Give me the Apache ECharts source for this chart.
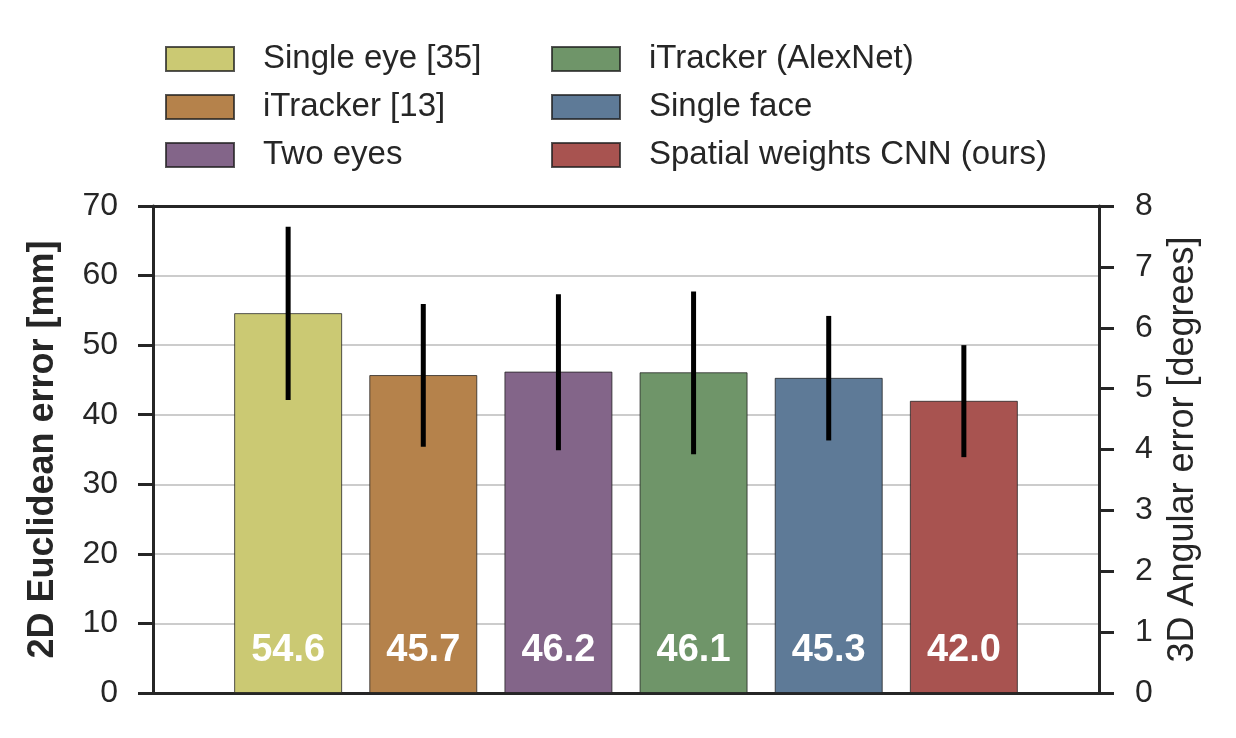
<!DOCTYPE html>
<html>
<head>
<meta charset="utf-8">
<script src="https://cdn.jsdelivr.net/npm/echarts@6/dist/echarts.min.js"></script>
<style>html,body{margin:0;padding:0;background:#fff}#chart{width:1236px;height:738px}</style>
</head>
<body>
<div id="chart"></div>
<script>
const methods = ['Single eye [35]', 'iTracker [13]', 'Two eyes', 'iTracker (AlexNet)', 'Single face', 'Spatial weights CNN (ours)'];
const errors2D = [54.6, 45.7, 46.2, 46.1, 45.3, 42.0];
const errLow = [42.1, 35.4, 34.9, 34.3, 36.3, 33.9];
const errHigh = [67.0, 55.9, 57.3, 57.7, 54.2, 50.0];
const colors = ['#cbc973', '#b5824b', '#836589', '#6f9569', '#5e7a97', '#a85350'];
const leftTicks = [0, 10, 20, 30, 40, 50, 60, 70];
const rightTicks = [0, 1, 2, 3, 4, 5, 6, 7, 8];

const FONT = 'Liberation Sans, Arial, sans-serif';
const DARK = '#262626';

const chart = echarts.init(document.getElementById('chart'), null, {renderer: 'canvas'});

const barSeries = methods.map((m, i) => ({
  name: m,
  type: 'bar',
  stack: 'all',
  xAxisIndex: 0,
  yAxisIndex: 0,
  barWidth: 108,
  data: [[i, errors2D[i]]],
  itemStyle: {color: colors[i], borderColor: 'rgba(30,30,30,0.75)', borderWidth: 1},
  label: {
    show: true,
    position: 'insideBottom',
    distance: 23,
    formatter: p => p.value[1].toFixed(1),
    color: '#ffffff',
    fontFamily: FONT,
    fontWeight: 'bold',
    fontSize: 38
  },
  emphasis: {disabled: true},
  z: 2
}));

const errSeries = {
  type: 'custom',
  xAxisIndex: 0,
  yAxisIndex: 0,
  data: methods.map((m, i) => [i, errLow[i], errHigh[i]]),
  renderItem: (params, api) => {
    const lo = api.coord([api.value(0), api.value(1)]);
    const hi = api.coord([api.value(0), api.value(2)]);
    return {
      type: 'line',
      shape: {x1: lo[0], y1: lo[1], x2: hi[0], y2: hi[1]},
      style: {stroke: '#000', lineWidth: 5}
    };
  },
  silent: true,
  z: 5
};

const legendCommon = {
  orient: 'vertical',
  top: 42.5,
  padding: 0,
  itemWidth: 68,
  itemHeight: 24,
  itemGap: 15,
  icon: 'rect',
  selectedMode: false,
  textStyle: {fontFamily: FONT, fontSize: 33, color: DARK, padding: [0, 0, 0, 24]}
};

const axisLineStyle = {show: true, onZero: false, lineStyle: {color: DARK, width: 3}};

chart.setOption({
  animation: false,
  backgroundColor: '#fff',
  grid: {left: 153, right: 137, top: 206, bottom: 45, containLabel: false, outerBoundsMode: 'none'},
  legend: [
    Object.assign({}, legendCommon, {left: 165, data: methods.slice(0, 3)}),
    Object.assign({}, legendCommon, {left: 551, data: methods.slice(3, 6)})
  ],
  xAxis: [
    {
      type: 'value', min: -1, max: 6, position: 'bottom',
      axisLine: axisLineStyle,
      axisTick: {show: false}, axisLabel: {show: false}, splitLine: {show: false}
    },
    {
      type: 'value', min: -1, max: 6, position: 'top',
      axisLine: axisLineStyle,
      axisTick: {show: false}, axisLabel: {show: false}, splitLine: {show: false}
    }
  ],
  yAxis: [
    {
      type: 'value', min: leftTicks[0], max: leftTicks[leftTicks.length - 1], interval: 10, position: 'left',
      name: '2D Euclidean error [mm]', nameLocation: 'middle', nameGap: 92, nameRotate: 90,
      nameTextStyle: {fontFamily: FONT, fontWeight: 'bold', fontSize: 36, color: DARK},
      axisLine: axisLineStyle,
      axisTick: {show: true, inside: false, length: 15, lineStyle: {color: DARK, width: 3}},
      axisLabel: {margin: 35, fontFamily: FONT, fontSize: 32, color: DARK},
      splitLine: {show: true, lineStyle: {color: '#cccccc', width: 2}}
    },
    {
      type: 'value', min: rightTicks[0], max: rightTicks[rightTicks.length - 1], interval: 1, position: 'right',
      name: '3D Angular error [degrees]', nameLocation: 'middle', nameGap: 66, nameRotate: 90,
      nameTextStyle: {fontFamily: FONT, fontSize: 36, color: DARK},
      axisLine: axisLineStyle,
      axisTick: {show: true, inside: false, length: 15, lineStyle: {color: DARK, width: 3}},
      axisLabel: {margin: 36, fontFamily: FONT, fontSize: 32, color: DARK},
      splitLine: {show: false}
    }
  ],
  series: barSeries.concat([errSeries])
});
</script>
</body>
</html>
